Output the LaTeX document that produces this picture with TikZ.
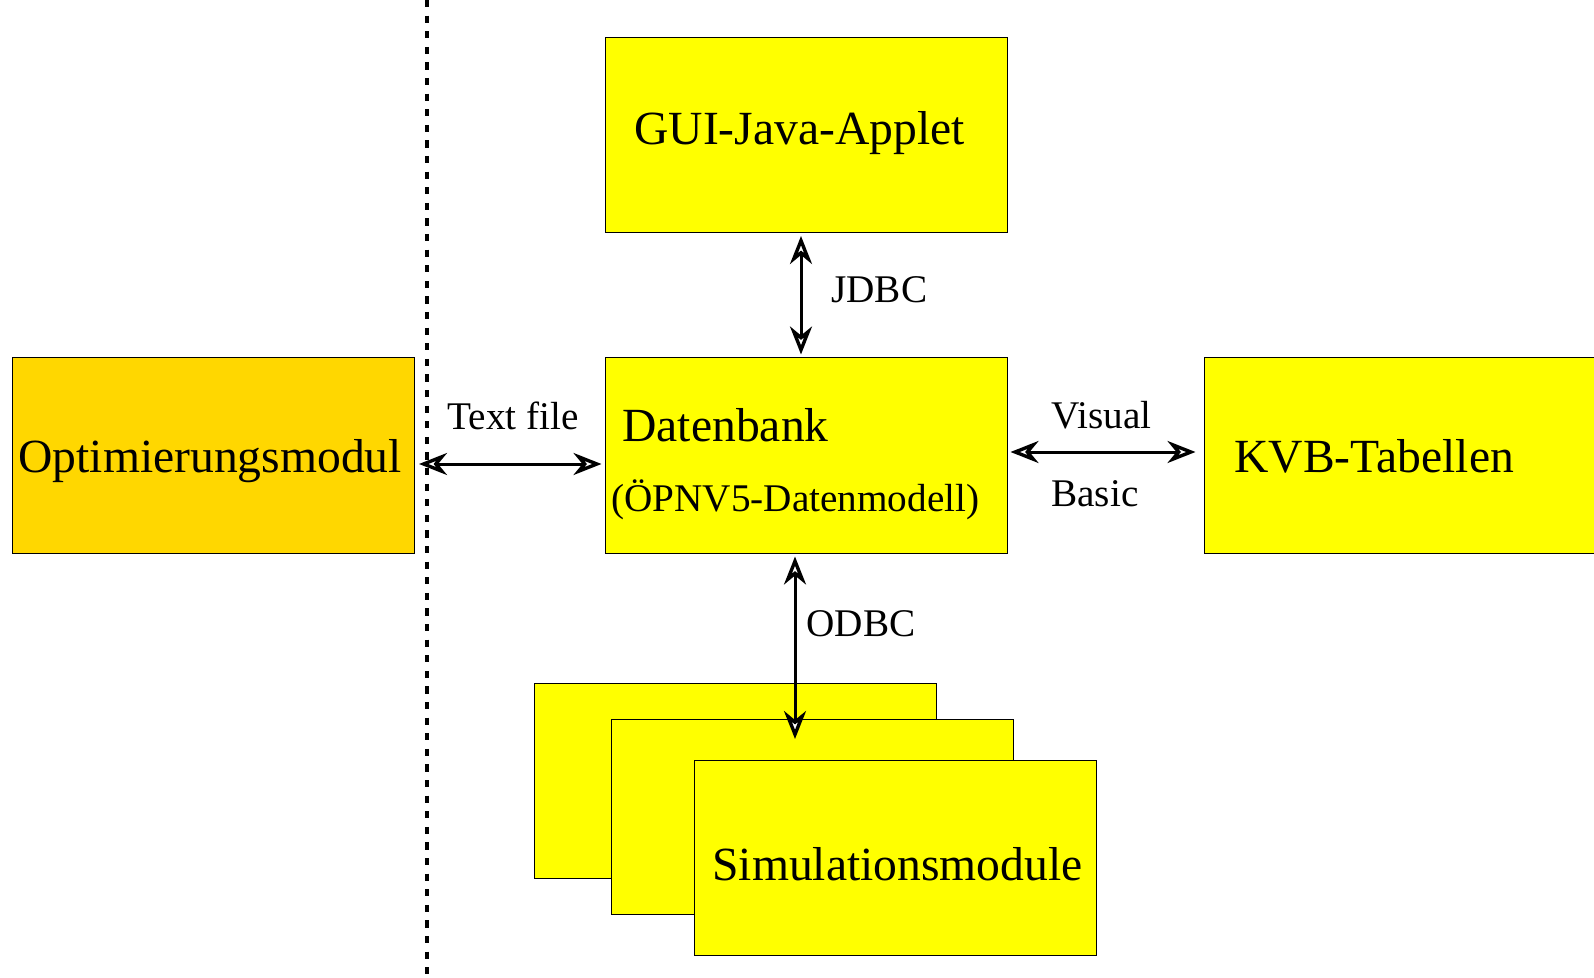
\documentclass[tikz,border=0pt]{standalone}
\usepackage{fontspec}
\setmainfont{Liberation Serif}
\usetikzlibrary{arrows.meta,calc}

\definecolor{boxyellow}{HTML}{FFFF00}
\definecolor{boxgold}{HTML}{FFD700}

\tikzset{
  module/.style={draw=black, line width=0.5pt, fill=boxyellow, rectangle,
    minimum width=201pt, minimum height=97.5pt, inner sep=0pt},
  bigtext/.style={font=\fontsize{23.8}{28}\selectfont, inner sep=0pt, anchor=base west},
  smalltext/.style={font=\fontsize{19.6}{23}\selectfont, inner sep=0pt, anchor=base west},
  tipend/.tip={Stealth[length=14pt, width=11pt, inset=4.5pt, fill=white, line width=1.7pt]},
  link/.style={line width=1.5pt, {tipend}-{tipend}},
  divider/.style={line width=1.6pt, dash pattern=on 3.6pt off 4.2pt}
}

\begin{document}
\begin{tikzpicture}[x=0.5pt, y=-0.5pt]
  \clip (0,0) rectangle (1594,978);

  % separation between optimisation and the database system
  \coordinate (sepTop) at (427,0);
  \coordinate (sepBot) at (427,978);
  \draw[divider] (sepTop) -- (sepBot);

  % modules
  \node[module] (gui) at (806,135) {};
  \node[module] (db)  at (806,455.5) {};
  \node[module, fill=boxgold] (opt) at (213.5,455.5) {};
  \node[module] (kvb) at (1405,455.5) {};
  \node[module] (sim1) at (735,781) {};
  \node[module] (sim2) at (812,817) {};

  % module labels
  \node[bigtext] (guiLabel) at (634,145) {GUI-Java-Applet};
  \node[bigtext] (dbLabel) at (622,441) {Datenbank};
  \node[smalltext] (dbSub) at (611,511) {(ÖPNV5-Datenmodell)};
  \node[bigtext] (optLabel) at (18,472) {Optimierungsmodul};
  \node[bigtext] (kvbLabel) at (1234,472) {KVB-Tabellen};

  % interfaces
  \draw[link] ($(gui.south)+(-5,3)$) -- ($(db.north)+(-5,-3)$);
  \node[smalltext] (jdbc) at (831,303) {JDBC};

  \draw[link] ($(opt.east)+(4,8.5)$) -- ($(db.west)+(-3,8.5)$);
  \node[smalltext] (textfile) at (447,429) {Text file};

  \draw[link] ($(db.east)+(3,-3.5)$) -- ($(kvb.west)+(-8,-3.5)$);
  \node[smalltext] (visual) at (1051,428) {Visual};
  \node[smalltext] (basic) at (1051,506) {Basic};

  \coordinate (simEntry) at (795,739);
  \draw[link] ($(db.south)+(-11,3)$) -- (simEntry);
  \node[smalltext] (odbc) at (806,636) {ODBC};

  % front simulation module
  \node[module] (sim3) at (895.5,858) {};
  \node[bigtext] (simLabel) at (712,880) {Simulationsmodule};
\end{tikzpicture}
\end{document}
